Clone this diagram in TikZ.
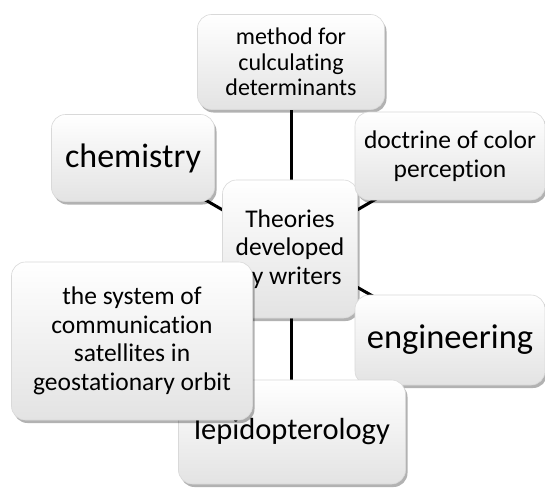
\documentclass[tikz,border=0pt]{standalone}
\usepackage{fontspec}
\setmainfont{Carlito}[RawFeature={-liga;-clig}]
\usetikzlibrary{shadows}
\begin{document}
\begin{tikzpicture}[x=1pt,y=-1pt,
  box/.style={draw=gray!30, line width=0.6pt, rounded corners=14pt, top color=white, bottom color=gray!22,
    drop shadow={shadow xshift=2pt, shadow yshift=-3pt, fill=black, opacity=0.3},
    align=center, inner sep=0pt, text=black},
  conn/.style={line width=3pt, black}]
\useasboundingbox (0,0) rectangle (545,487);
\fill[white] (0,0) rectangle (545,487);
% connectors
\coordinate (c) at (290,249);
\draw[conn] (291,100) -- (291,400);
\draw[conn] (c) -- (133,158);
\draw[conn] (c) -- (450,156);
\draw[conn] (c) -- (450,340);
% nodes
\node[box, minimum width=135, minimum height=138, font=\fontsize{25.5}{28.5}\selectfont] (center) at (c) {Theories\\developed\\by writers};
\node[box, minimum width=187, minimum height=95, font=\fontsize{24}{25.5}\selectfont] (top) at (291,62) {method for\\culculating\\determinants};
\node[box, minimum width=163, minimum height=87, font=\fontsize{34}{38}\selectfont] (chem) at (133,158) {chemistry};
\node[box, minimum width=190, minimum height=88, font=\fontsize{25.5}{29}\selectfont] (doc) at (450,156) {doctrine of color\\perception};
\node[box, minimum width=190, minimum height=90, font=\fontsize{34.5}{38}\selectfont] (eng) at (450,340) {engineering};
\node[box, minimum width=227, minimum height=104, font=\fontsize{30.5}{34}\selectfont] (lep) at (292,432) {lepidopterology};
\node[box, minimum width=241, minimum height=158, font=\fontsize{25.5}{28.5}\selectfont] (sys) at (132,341) {the system of\\communication\\satellites in\\geostationary orbit};
\end{tikzpicture}
\end{document}
